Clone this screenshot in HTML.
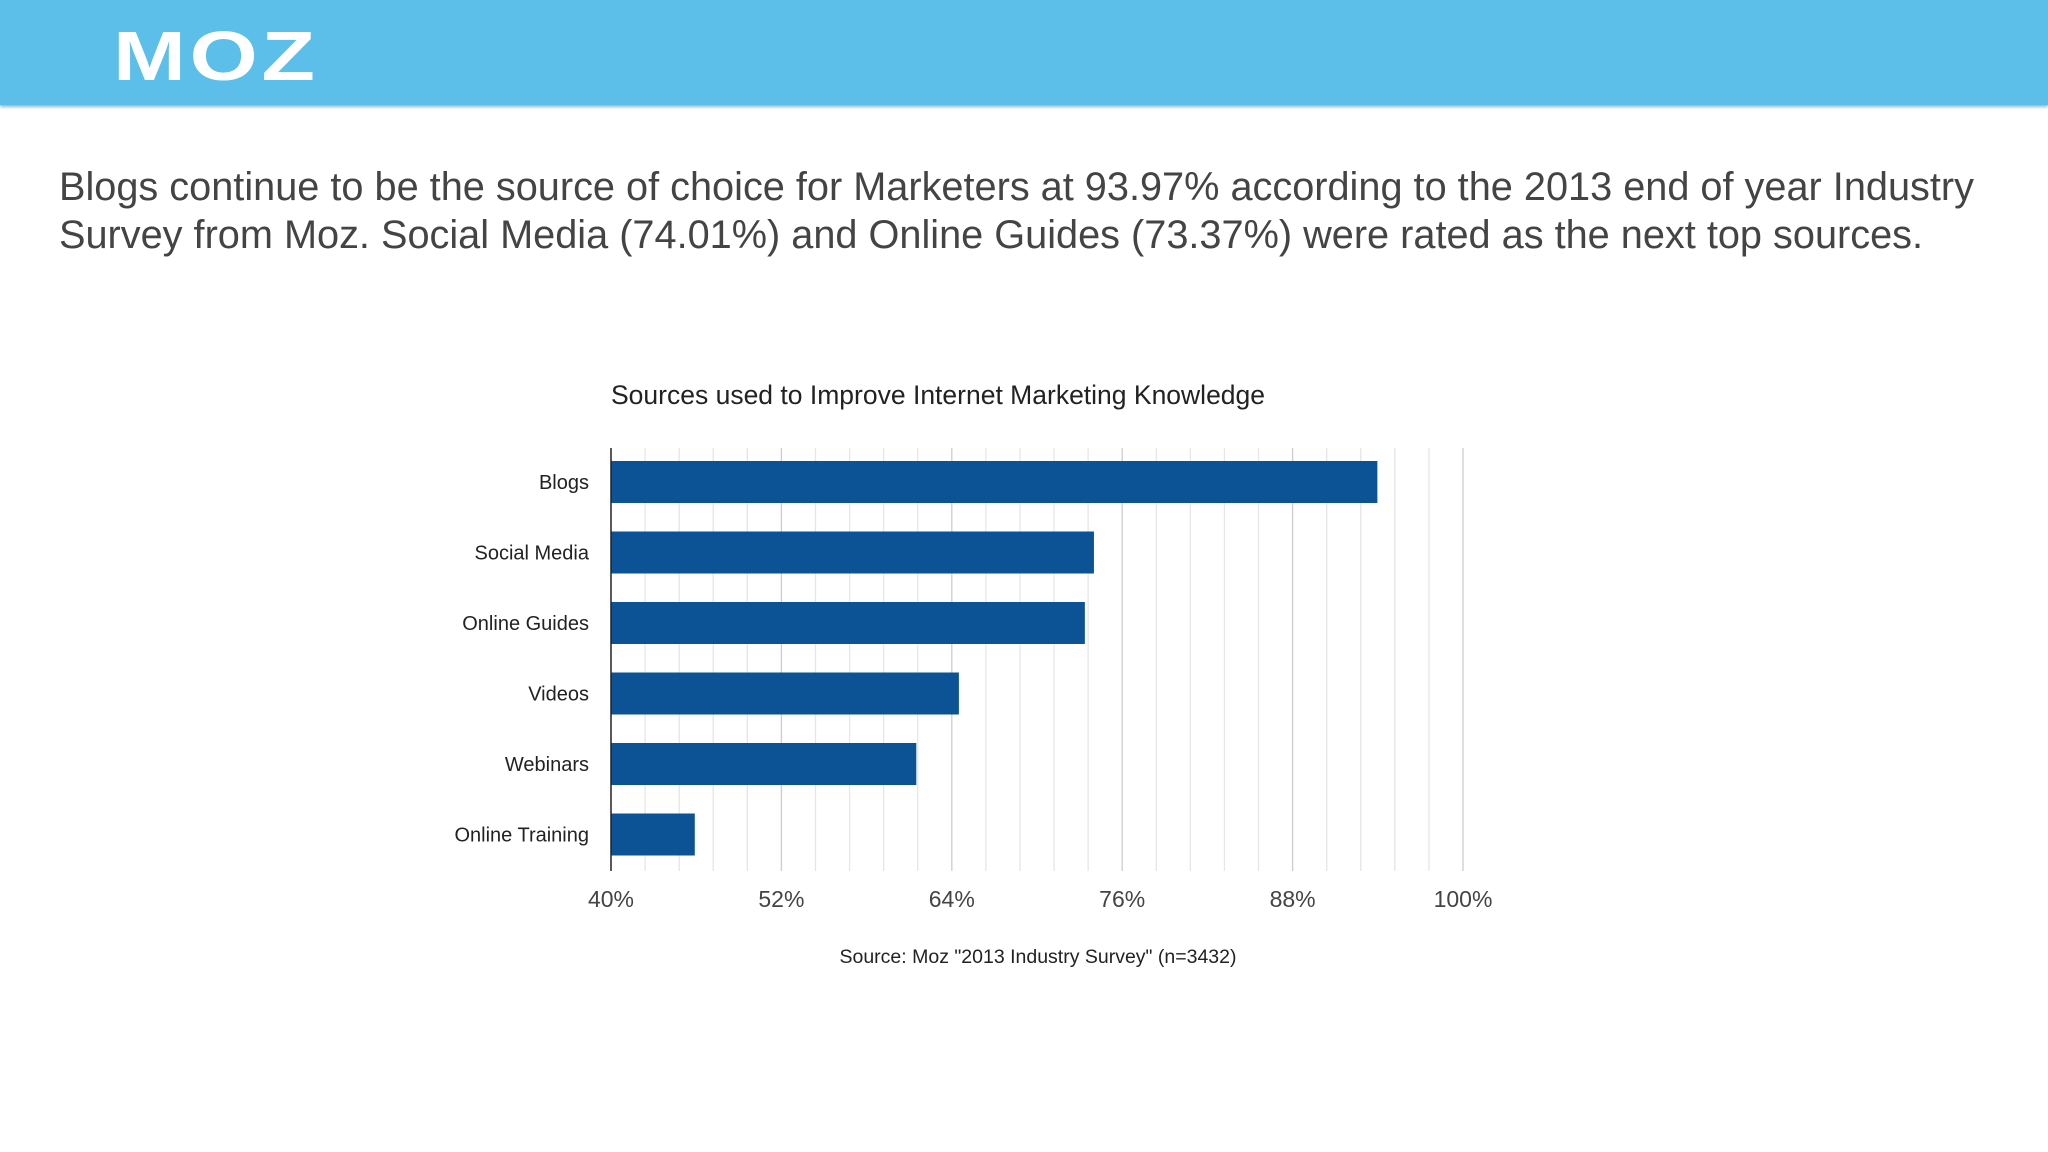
<!DOCTYPE html>
<html><head><meta charset="utf-8"><style>
body{margin:0;width:2048px;height:1152px;background:#fff;overflow:hidden;font-family:"Liberation Sans",sans-serif;position:relative}
#hdr{position:absolute;left:0;top:0;width:2048px;height:105px;background:#5bbfea;box-shadow:0 2px 3px #8fb9cc}
#logo{position:absolute;left:113px;top:16px;font-weight:bold;font-size:70px;color:#fff;letter-spacing:3px;transform:scaleX(1.25);transform-origin:left top}
#intro{position:absolute;left:59px;top:163px;width:1990px;font-size:39.7px;line-height:48px;color:#444}
</style></head><body>
<div id="hdr"><div id="logo">MOZ</div></div>
<div id="intro">Blogs continue to be the source of choice for Marketers at 93.97% according to the 2013 end of year Industry<br>Survey from Moz. Social Media (74.01%) and Online Guides (73.37%) were rated as the next top sources.</div>
<svg id="chart" width="2048" height="1152" style="position:absolute;left:0;top:0">
<text x="611" y="404" font-size="26.5" fill="#222" font-family="Liberation Sans">Sources used to Improve Internet Marketing Knowledge</text>
<g id="grid"></g><g id="bars"></g><g id="labels"></g><g id="ticks"></g>
<line x1="611" y1="448" x2="611" y2="871" stroke="#222" stroke-width="1.5"/>
<text x="1038" y="963" font-size="19.5" fill="#222" text-anchor="middle" font-family="Liberation Sans">Source: Moz "2013 Industry Survey" (n=3432)</text>
</svg>
<script>
const categories=["Blogs","Social Media","Online Guides","Videos","Webinars","Online Training"];
const values=[93.97,74.01,73.37,64.5,61.5,45.9];
const tickLabels=["40%","52%","64%","76%","88%","100%"];
const tickValues=[40,52,64,76,88,100];
const NS="http://www.w3.org/2000/svg";
const X0=611,X1=1463,VMIN=40,VMAX=100,PTOP=448,PBOTTOM=871,PITCH=70.5,BARH=42,FIRSTBAR=461;
function xs(v){return X0+(v-VMIN)/(VMAX-VMIN)*(X1-X0);}
function mk(t,a,p){const e=document.createElementNS(NS,t);for(const k in a)e.setAttribute(k,a[k]);p.appendChild(e);return e;}
const gridG=document.getElementById('grid');
for(let i=1;i<=25;i++){const v=VMIN+2.4*i;const major=(i%5===0);
const l=mk('line',{x1:xs(v),x2:xs(v),y1:PTOP,y2:PBOTTOM,stroke:major?'#ccc':'#e6e6e6','stroke-width':1.3},gridG);

}
const barsG=document.getElementById('bars'),labG=document.getElementById('labels');
categories.forEach((c,i)=>{const y=FIRSTBAR+i*PITCH;
const r=mk('rect',{x:X0,y:y,width:xs(values[i])-X0,height:BARH,fill:'#0b5394'},barsG);


const t=mk('text',{x:589,y:y+BARH/2+7,'font-size':20,fill:'#222','text-anchor':'end','font-family':'Liberation Sans'},labG);t.textContent=c;

});
const tickG=document.getElementById('ticks');
tickValues.forEach((v,i)=>{const t=mk('text',{x:xs(v),y:907,'font-size':23,fill:'#444','text-anchor':'middle','font-family':'Liberation Sans'},tickG);t.textContent=tickLabels[i];

});
</script>
</body></html>
